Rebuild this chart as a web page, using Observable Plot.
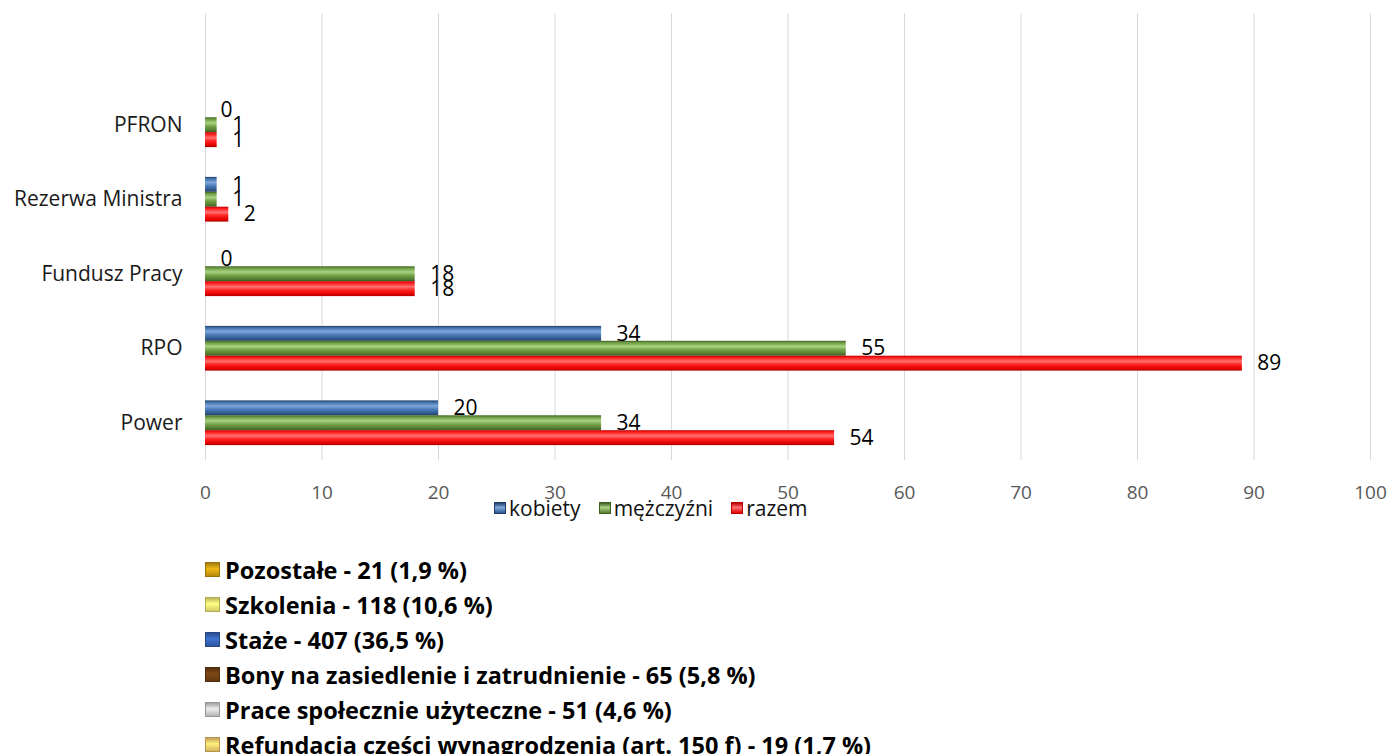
<!DOCTYPE html>
<html>
<head>
<meta charset="utf-8">
<script src="https://cdn.jsdelivr.net/npm/d3@7"></script>
<script src="https://cdn.jsdelivr.net/npm/@observablehq/plot@0.6"></script>
<style>
  html, body { margin: 0; padding: 0; background: #fff; }
  body { width: 1391px; height: 754px; position: relative; overflow: hidden; font-family: "Open Sans", sans-serif; }
  #chart { position: absolute; left: 0; top: 0; }
  .legend1 { position: absolute; left: 494px; top: 494px; display: flex; align-items: center; font-size: 21px; color: #111; white-space: nowrap; }
  .legend1 .item { display: flex; align-items: center; margin-right: 18px; }
  .sw { display: inline-block; width: 12px; height: 12px; margin-right: 3px; box-sizing: border-box; }
  .legend2 { position: absolute; left: 205px; top: 552px; font-size: 23.5px; font-weight: 700; color: #000; letter-spacing: 0px; }
  .legend2 .row { height: 35px; display: flex; align-items: center; white-space: nowrap; }
  .legend2 .sw { width: 15px; height: 15px; margin-right: 5px; }
</style>
</head>
<body>
<div id="chart"></div>
<div class="legend1" id="legend1"></div>
<div class="legend2" id="legend2"></div>
<script>
// ---- data ----
const categories = ["Power", "RPO", "Fundusz Pracy", "Rezerwa Ministra", "PFRON"];
const seriesNames = ["kobiety", "mężczyźni", "razem"];
const kobiety = [20, 34, 0, 1, 0];
const mezczyzni = [34, 55, 18, 1, 1];
const razem = [54, 89, 18, 2, 1];
const xTicks = [0, 10, 20, 30, 40, 50, 60, 70, 80, 90, 100];

const otherLegendLabels = [
  "Pozostałe - 21 (1,9 %)",
  "Szkolenia - 118 (10,6 %)",
  "Staże - 407 (36,5 %)",
  "Bony na zasiedlenie i zatrudnienie - 65 (5,8 %)",
  "Prace społecznie użyteczne - 51 (4,6 %)",
  "Refundacja części wynagrodzenia (art. 150 f) - 19 (1,7 %)"
];
const otherLegendColors = ["#c99a12", "#ece36e", "#3560b0", "#6b3d12", "#c8c8c8", "#f0c86a"];

// ---- styling ----
const gradStops = [
  [["0", "#203f66"], ["0.12", "#3f6fa8"], ["0.38", "#7ea8dc"], ["0.6", "#4a7bb6"], ["0.88", "#2f5687"], ["1", "#1f3b60"]],
  [["0", "#3f5e22"], ["0.12", "#6a9a40"], ["0.38", "#a9d283"], ["0.6", "#74a449"], ["0.88", "#53792f"], ["1", "#3a571f"]],
  [["0", "#b80000"], ["0.12", "#ff1a1a"], ["0.38", "#ff7070"], ["0.6", "#ff2020"], ["0.88", "#e00000"], ["1", "#a80000"]]
];

// ---- table ----
const valuesBySeries = [kobiety, mezczyzni, razem];
const rows = categories.flatMap((c, i) =>
  seriesNames.map((s, j) => ({cat: c, series: s, si: j, value: valuesBySeries[j][i]}))
);
const key = d => d.cat + "|" + d.series;

// band domain top -> bottom, with an empty top category and gaps between groups
const topDown = ["", ...categories.slice().reverse()];
const yDomain = topDown.flatMap(c => [c + "|_a", ...seriesNames.map(s => c + "|" + s), c + "|_b"]);
const labelFor = k => {
  const [c, s] = k.split("|");
  return s === seriesNames[1] ? c : "";
};

const chart = Plot.plot({
  width: 1391,
  height: 520,
  marginLeft: 205,
  marginRight: 21,
  marginTop: 13,
  marginBottom: 60,
  style: {fontFamily: "Open Sans", fontSize: "21px", background: "white"},
  x: {domain: [0, 100]},
  y: {type: "band", domain: yDomain, padding: 0, round: false},
  marks: [
    Plot.ruleX(xTicks, {stroke: "#d9d9d9", strokeWidth: 1}),
    Plot.axisX({ticks: xTicks, tickSize: 0, tickPadding: 25, fontSize: 19, fill: "#595959", label: null}),
    Plot.axisY({tickSize: 0, tickPadding: 23, tickFormat: labelFor, fontSize: 21, fill: "#1a1a1a", label: null}),
    ...seriesNames.map((s, j) =>
      Plot.barX(rows.filter(d => d.si === j), {x: "value", y: key, fill: `url(#grad${j})`})
    ),
    Plot.text(rows, {x: "value", y: key, text: d => String(d.value), dx: 15, textAnchor: "start", fontSize: 21, fill: "#000"})
  ]
});

// gradients
const ns = "http://www.w3.org/2000/svg";
const defs = document.createElementNS(ns, "defs");
gradStops.forEach((stops, j) => {
  const g = document.createElementNS(ns, "linearGradient");
  g.setAttribute("id", "grad" + j);
  g.setAttribute("x1", "0"); g.setAttribute("y1", "0");
  g.setAttribute("x2", "0"); g.setAttribute("y2", "1");
  stops.forEach(([o, c]) => {
    const st = document.createElementNS(ns, "stop");
    st.setAttribute("offset", o);
    st.setAttribute("stop-color", c);
    g.appendChild(st);
  });
  defs.appendChild(g);
});
chart.insertBefore(defs, chart.firstChild);
document.getElementById("chart").appendChild(chart);

// legend 1
const lg1 = document.getElementById("legend1");
seriesNames.forEach((s, j) => {
  const it = document.createElement("div");
  it.className = "item";
  const sw = document.createElement("span");
  sw.className = "sw";
  const c = gradStops[j];
  sw.style.background = `linear-gradient(180deg, ${c[0][1]}, ${c[2][1]} 45%, ${c[4][1]})`;
  sw.style.border = `1px solid ${c[0][1]}`;
  const t = document.createElement("span");
  t.textContent = s;
  it.appendChild(sw); it.appendChild(t);
  lg1.appendChild(it);
});

// legend 2
const lg2 = document.getElementById("legend2");
otherLegendLabels.forEach((s, i) => {
  const r = document.createElement("div");
  r.className = "row";
  const sw = document.createElement("span");
  sw.className = "sw";
  const col = d3.color(otherLegendColors[i]);
  sw.style.background = `linear-gradient(180deg, ${col.darker(0.6)}, ${col.brighter(0.5)} 45%, ${col.darker(0.3)})`;
  sw.style.border = `1px solid ${col.darker(0.8)}`;
  const t = document.createElement("span");
  t.textContent = s;
  r.appendChild(sw); r.appendChild(t);
  lg2.appendChild(r);
});
</script>
</body>
</html>
